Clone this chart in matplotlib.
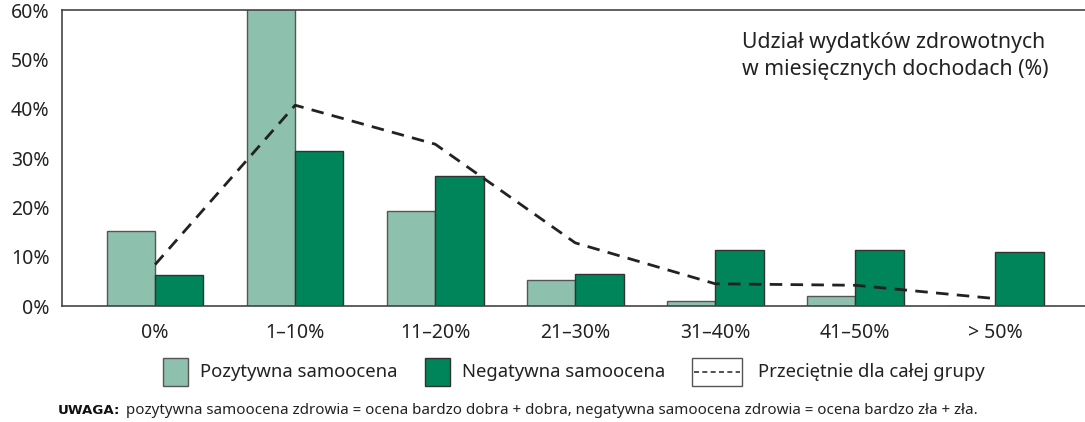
import matplotlib.pyplot as plt
import matplotlib.patches as mpatches
import matplotlib.lines as mlines
import numpy as np

plt.rcParams['font.family'] = ['Noto Sans', 'DejaVu Sans']

categories = ['0%', '1–10%', '11–20%', '21–30%', '31–40%', '41–50%', '> 50%']
positive = [15.3, 60.5, 19.2, 5.3, 1.1, 2.1, 0.0]
negative = [6.3, 31.5, 26.3, 6.4, 11.3, 11.3, 10.9]
average = [8.4, 40.7, 32.8, 12.8, 4.5, 4.2, 1.5]
yticks = [0, 10, 20, 30, 40, 50, 60]

light = '#8dc1ad'
dark = '#00845a'
edge = '#333333'

fig = plt.figure(figsize=(10.85, 4.22), dpi=100)
ax = fig.add_axes([62 / 1085, 1 - 306 / 422, 1 - 62 / 1085, 296 / 422])

x = np.arange(len(categories))
w = 0.345
ax.bar(x - w / 2, positive, w, color=light, edgecolor='#555555', linewidth=1)
ax.bar(x + w / 2, negative, w, color=dark, edgecolor=edge, linewidth=1)
ax.plot(x, average, color='#222222', linestyle=(0, (4.5, 3)), linewidth=2)

ax.set_xlim(-0.665, 6.64)
ax.set_ylim(0, 60)
ax.set_yticks(yticks)
ax.set_yticklabels([f'{v}%' for v in yticks], fontsize=14, color='#222222')
ax.set_xticks(x)
ax.set_xticklabels(categories, fontsize=14, color='#222222')
ax.tick_params(axis='y', length=0, pad=9)
ax.tick_params(axis='x', length=0, pad=12)
ax.spines['right'].set_visible(False)
for s in ['left', 'top', 'bottom']:
    ax.spines[s].set_color('#444444')
    ax.spines[s].set_linewidth(1.2)

ax.text(0.665, 0.925, 'Udział wydatków zdrowotnych\nw miesięcznych dochodach (%)',
        transform=ax.transAxes, fontsize=15.3, va='top', ha='left',
        color='#222222', linespacing=1.35)

W, H = 1085, 422


def fx(px):
    return px / W


def fy(py):
    return 1 - py / H


fs_leg = 13.3
fig.add_artist(mpatches.Rectangle((fx(163), fy(386)), 25 / W, 28 / H,
                                  facecolor=light, edgecolor='#555555', lw=1,
                                  transform=fig.transFigure))
fig.text(fx(200), fy(372), 'Pozytywna samoocena', fontsize=fs_leg, va='center', color='#222222')
fig.add_artist(mpatches.Rectangle((fx(425), fy(386)), 25 / W, 28 / H,
                                  facecolor=dark, edgecolor=edge, lw=1,
                                  transform=fig.transFigure))
fig.text(fx(462), fy(372), 'Negatywna samoocena', fontsize=fs_leg, va='center', color='#222222')
fig.add_artist(mpatches.Rectangle((fx(692), fy(386)), 50 / W, 28 / H,
                                  facecolor='white', edgecolor='#555555', lw=1,
                                  transform=fig.transFigure))
fig.add_artist(mlines.Line2D([fx(694), fx(740)], [fy(372), fy(372)], color='#333333',
                             linestyle=(0, (3, 2)), lw=1.2, transform=fig.transFigure))
fig.text(fx(758), fy(372), 'Przeciętnie dla całej grupy', fontsize=fs_leg, va='center', color='#222222')

fig.text(fx(58), fy(410), 'UWAGA:', fontsize=9.6, fontweight='bold', va='center',
         color='#111111', family='DejaVu Sans')
fig.text(fx(126), fy(410), 'pozytywna samoocena zdrowia = ocena bardzo dobra + dobra, '
         'negatywna samoocena zdrowia = ocena bardzo zła + zła.',
         fontsize=10.9, va='center', color='#222222')

fig.savefig('out.png', dpi=100)
